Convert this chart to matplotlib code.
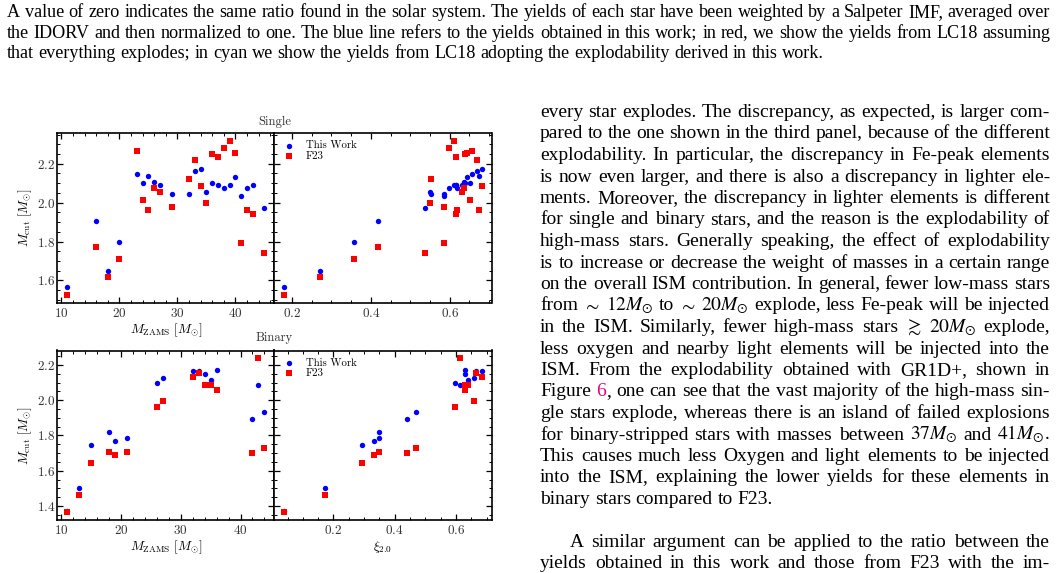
import matplotlib
matplotlib.use("Agg")  # no display
import matplotlib.pyplot as plt
from matplotlib.ticker import MultipleLocator, AutoMinorLocator

# ------------------------------------------------------------
# data
# ------------------------------------------------------------
m_single = [11, 16, 18, 20, 23, 24, 25, 26, 27, 29, 32, 33, 34, 35, 36, 37,
            38, 39, 40, 41, 42, 43, 45]
xi_single = [0.180, 0.417, 0.272, 0.357, 0.657, 0.651, 0.675, 0.636, 0.630,
             0.585, 0.552, 0.668, 0.681, 0.551, 0.638, 0.616, 0.599, 0.610,
             0.644, 0.586, 0.619, 0.615, 0.537]
mcut_single_this = [1.565, 1.905, 1.651, 1.795, 2.149, 2.099, 2.138, 2.107,
                    2.092, 2.046, 2.046, 2.162, 2.171, 2.056, 2.102, 2.092,
                    2.075, 2.092, 2.130, 2.032, 2.073, 2.090, 1.972]
mcut_single_f23 = [1.526, 1.773, 1.617, 1.711, 2.263, 2.015, 1.963, 2.076,
                   2.054, 1.977, 2.123, 2.217, 2.087, 2.000, 2.251, 2.234,
                   2.282, 2.317, 2.257, 1.792, 1.960, 1.939, 1.740]

m_binary = [11, 13, 15, 18, 19, 21, 26, 27, 32, 33, 34, 35, 36, 42, 43, 44]
xi_binary = [0.039, 0.173, 0.292, 0.350, 0.333, 0.350, 0.596, 0.660, 0.684,
             0.665, 0.631, 0.638, 0.630, 0.440, 0.613, 0.468]
mcut_binary_this = [1.372, 1.502, 1.745, 1.817, 1.770, 1.787, 2.098, 2.128,
                    2.168, 2.168, 2.149, 2.113, 2.173, 1.895, 2.084, 1.933]
mcut_binary_f23 = [1.364, 1.464, 1.645, 1.707, 1.688, 1.707, 1.959, 1.995,
                   2.132, 2.153, 2.084, 2.088, 2.060, 1.698, 2.238, 1.730]

# page text around the figure
caption_lines = [
    "A value of zero indicates the same ratio found in the solar system. The yields of each star have been weighted by a Salpeter IMF, averaged over",
    "the IDORV and then normalized to one. The blue line refers to the yields obtained in this work; in red, we show the yields from LC18 assuming",
    "that everything explodes; in cyan we show the yields from LC18 adopting the explodability derived in this work.",
]
body_lines = [
    "every star explodes. The discrepancy, as expected, is larger com-",
    "pared to the one shown in the third panel, because of the different",
    "explodability. In particular, the discrepancy in Fe-peak elements",
    "is now even larger, and there is also a discrepancy in lighter ele-",
    "ments. Moreover, the discrepancy in lighter elements is different",
    "for single and binary stars, and the reason is the explodability of",
    "high-mass stars. Generally speaking, the effect of explodability",
    "is to increase or decrease the weight of masses in a certain range",
    "on the overall ISM contribution. In general, fewer low-mass stars",
    r"from $\sim$ $12M_{\odot}$ to $\sim$ $20M_{\odot}$ explode, less Fe-peak will be injected",
    r"in the ISM. Similarly, fewer high-mass stars $\gtrsim$ $20M_{\odot}$ explode,",
    "less oxygen and nearby light elements will be injected into the",
    "ISM. From the explodability obtained with GR1D+, shown in",
    "Figure 6, one can see that the vast majority of the high-mass sin-",
    "gle stars explode, whereas there is an island of failed explosions",
    r"for binary-stripped stars with masses between $37M_{\odot}$ and $41M_{\odot}$.",
    "This causes much less Oxygen and light elements to be injected",
    "into the ISM, explaining the lower yields for these elements in",
    "binary stars compared to F23.",
    "",
    "A similar argument can be applied to the ratio between the",
    "yields obtained in this work and those from F23 with the im-",
]
# lines that end a paragraph are not stretched
last_lines = {18}
indent_lines = {20}

W, H, DPI = 1058, 573, 100
BODY_FONT = "Liberation Serif"
LINK_COLOR = "#e5007d"
SPECIAL = {"6,": [("6", LINK_COLOR), (",", "black")]}

plt.rcParams.update({
    "font.family": "cmr10",
    "mathtext.fontset": "cm",
    "axes.formatter.use_mathtext": True,
})

fig = plt.figure(figsize=(W / DPI, H / DPI), dpi=DPI)
fig.patch.set_facecolor("white")


def box(x0, y0, x1, y1):
    """pixel box (top-left origin) -> figure fraction rect"""
    return [x0 / W, 1 - y1 / H, (x1 - x0) / W, (y1 - y0) / H]


def style(ax):
    for s in ax.spines.values():
        s.set_linewidth(1.2)
    ax.tick_params(which="both", direction="in", top=True, right=True,
                   labelsize=9.5, labelcolor="#333333")
    ax.tick_params(axis="x", pad=3)
    ax.tick_params(axis="y", pad=1.5)
    ax.tick_params(which="major", length=4, width=0.9)
    ax.tick_params(which="minor", length=2, width=0.7)
    ax.yaxis.set_major_locator(MultipleLocator(0.2))
    ax.xaxis.set_minor_locator(AutoMinorLocator())
    ax.yaxis.set_minor_locator(AutoMinorLocator())


def panel(ax, x, y_this, y_f23, legend=False):
    ax.scatter(x, y_this, s=15, c="blue", marker="o", linewidths=0, label="This Work")
    ax.scatter(x, y_f23, s=15, c="red", marker="s", linewidths=0, label="F23")
    style(ax)
    if legend:
        ax.legend(loc="upper left", frameon=False, fontsize=7.8, handlelength=1.4,
                  handletextpad=0.8, labelspacing=0.1, borderaxespad=0.3,
                  scatterpoints=1)


ax1 = fig.add_axes(box(57.3, 133.3, 274.3, 302.5))
ax2 = fig.add_axes(box(274.3, 133.3, 491.5, 302.5), sharey=ax1)
ax3 = fig.add_axes(box(57.3, 350.5, 274.3, 520.0))
ax4 = fig.add_axes(box(274.3, 350.5, 491.5, 520.0), sharey=ax3)

panel(ax1, m_single, mcut_single_this, mcut_single_f23)
panel(ax2, xi_single, mcut_single_this, mcut_single_f23, legend=True)
panel(ax3, m_binary, mcut_binary_this, mcut_binary_f23)
panel(ax4, xi_binary, mcut_binary_this, mcut_binary_f23, legend=True)

for ax in (ax1, ax3):
    ax.xaxis.set_major_locator(MultipleLocator(10))
    ax.set_xlabel(r"$M_{\rm ZAMS}\ [M_{\odot}]$", fontsize=9.5, labelpad=1)
    ax.set_ylabel(r"$M_{\rm cut}\ [M_{\odot}]$", fontsize=9.5, labelpad=2)
for ax in (ax2, ax4):
    ax.xaxis.set_major_locator(MultipleLocator(0.2))
    ax.tick_params(labelleft=False)
ax4.set_xlabel(r"$\xi_{2.0}$", fontsize=9.5, labelpad=1)

fig.text(274.3 / W, 1 - 122 / H, "Single", ha="center", va="center", fontsize=9, color="#333333")
fig.text(274.3 / W, 1 - 338 / H, "Binary", ha="center", va="center", fontsize=9, color="#333333")

# ------------------------------------------------------------
# page text, justified word by word
# ------------------------------------------------------------
renderer = fig.canvas.get_renderer()


def text_width(s, size):
    t = fig.text(0, 0, s, fontsize=size, family=BODY_FONT, math_fontfamily="stix")
    w = t.get_window_extent(renderer).width
    t.remove()
    return w


def fit_size(lines, target):
    widths = [text_width(l, 10) for l in lines if l]
    return 10 * target / max(widths)


def draw_line(line, x0, x1, y_base, size, justify):
    if not line:
        return
    words = line.split(" ")
    pieces, widths = [], []
    for w in words:
        segs = SPECIAL.get(w, [(w, "black")])
        parts, total = [], 0.0
        for s, c in segs:
            t = fig.text(0, 1 - y_base / H, s, fontsize=size, family=BODY_FONT,
                         math_fontfamily="stix", color=c, va="baseline", ha="left")
            wd = t.get_window_extent(renderer).width
            parts.append((t, wd))
            total += wd
        pieces.append(parts)
        widths.append(total)
    space = text_width("n n", size) - text_width("nn", size)
    if justify and len(words) > 1:
        gap = (x1 - x0 - sum(widths)) / (len(words) - 1)
    else:
        gap = space
    x = x0
    for parts, wd in zip(pieces, widths):
        xx = x
        for t, w in parts:
            t.set_x(xx / W)
            xx += w
        x += wd + gap


cap_size = fit_size(caption_lines[:2], 1043)
for i, line in enumerate(caption_lines):
    draw_line(line, 7, 1050, 17 + 20.5 * i, cap_size, justify=(i < 2))

body_size = fit_size([l for i, l in enumerate(body_lines) if i not in last_lines], 512)
for i, line in enumerate(body_lines):
    x0 = 570 if i in indent_lines else 540
    draw_line(line, x0, 1050, 117 + 21.5 * i, body_size,
              justify=(i not in last_lines))

fig.savefig("out.png", dpi=DPI, facecolor="white")
plt.close(fig)
